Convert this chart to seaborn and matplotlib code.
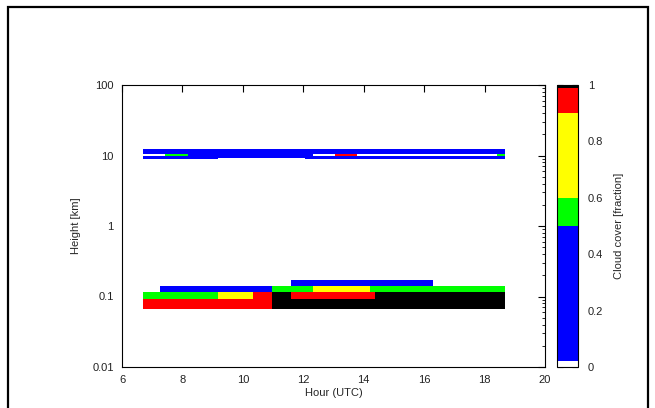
import numpy as np
import matplotlib
matplotlib.use("Agg")
import matplotlib.pyplot as plt
import seaborn as sns
from matplotlib.colors import ListedColormap, BoundaryNorm
from matplotlib.patches import Rectangle

# ---- data (cloud cover fraction, NaN = no cloud) ----
time_edges = [6.68, 7.26, 7.43, 8.19, 9.17, 10.33, 10.96, 11.6, 12.06,
              12.33, 13.05, 13.78, 14.2, 14.38, 16.3, 18.42, 18.68]
height_edges = [0.066, 0.092, 0.116, 0.142, 0.171, 8.9, 9.2, 10.0, 10.6, 12.4]
n = np.nan
row0 = [0.95, 0.95, 0.95, 0.95, 0.95, 0.95, 1.0, 1.0, 1.0, 1.0, 1.0, 1.0, 1.0, 1.0, 1.0, 1.0]
row1 = [0.55, 0.55, 0.55, 0.55, 0.75, 0.95, 1.0, 0.95, 0.95, 0.95, 0.95, 0.95, 0.95, 1.0, 1.0, 1.0]
row2 = [n, 0.3, 0.3, 0.3, 0.3, 0.3, 0.55, 0.55, 0.55, 0.75, 0.75, 0.75, 0.55, 0.55, 0.55, 0.55]
row3 = [n, n, n, n, n, n, n, 0.3, 0.3, 0.3, 0.3, 0.3, 0.3, 0.3, n, n]
row4 = [n] * 16
row5 = [0.3, 0.3, 0.3, 0.3, n, n, n, n, 0.3, 0.3, 0.3, 0.3, 0.3, 0.3, 0.3, 0.3]
row6 = [0.3] * 16
row7 = [0.01, 0.01, 0.55, 0.3, 0.3, 0.3, 0.3, 0.3, 0.3, 0.01, 0.95, 0.01, 0.01, 0.01, 0.01, 0.55]
row8 = [0.3] * 16

cbar_bounds = [0, 0.02, 0.5, 0.6, 0.9, 0.99, 1.0]
cbar_ticks = [0, 0.2, 0.4, 0.6, 0.8, 1]
x_ticks = [6, 8, 10, 12, 14, 16, 18, 20]
y_ticks = [0.01, 0.1, 1, 10, 100]
y_ticklabels = ["0.01", "0.1", "1", "10", "100"]

sns.set_theme(style="white")
plt.rcParams["font.family"] = ["Liberation Sans", "DejaVu Sans"]
plt.rcParams["font.size"] = 8

C = np.array([row0, row1, row2, row3, row4, row5, row6, row7, row8], dtype=float)
cmap = ListedColormap(["#ffffff", "#0000ff", "#00ff00", "#ffff00", "#ff0000", "#000000"])
norm = BoundaryNorm(cbar_bounds, cmap.N)

fig = plt.figure(figsize=(6.55, 4.08), dpi=100)
ax = fig.add_axes([122/655, 1-367/408, (545-122)/655, (367-85)/408])
cax = fig.add_axes([557/655, 1-367/408, (578-557)/655, (367-85)/408])

X, Y = np.meshgrid(time_edges, height_edges)
mesh = ax.pcolormesh(X, Y, np.ma.masked_invalid(C), cmap=cmap, norm=norm)
ax.set_yscale("log")
ax.set_xlim(6, 20)
ax.set_ylim(0.01, 100)
ax.set_xticks(x_ticks)
ax.set_yticks(y_ticks)
ax.set_yticklabels(y_ticklabels)
ax.set_xlabel("Hour (UTC)", labelpad=2, fontsize=8)
ax.set_ylabel("Height [km]", labelpad=8, fontsize=8)
ax.tick_params(which="both", direction="in", top=True, right=True, colors="black",
               labelcolor="#222222", labelsize=8)
ax.tick_params(which="major", length=5, width=0.8, pad=6)
ax.tick_params(which="minor", length=2.5, width=0.6)
for s in ax.spines.values():
    s.set_color("black")
    s.set_linewidth(0.8)

cb = fig.colorbar(mesh, cax=cax, ticks=cbar_ticks, spacing="proportional")
cb.set_ticklabels(["0", "0.2", "0.4", "0.6", "0.8", "1"])
cb.set_label("Cloud cover [fraction]", labelpad=8, fontsize=8)
cax.minorticks_off()
cax.yaxis.set_ticks_position("both")
cax.yaxis.set_label_position("right")
cax.tick_params(direction="in", length=4, width=0.8, colors="black",
                labelcolor="#222222", pad=7, labelsize=8, labelleft=False, labelright=True)
cb.outline.set_edgecolor("black")
cb.outline.set_linewidth(0.8)

fig.patches.append(Rectangle((8/655, -0.1), 640/655, 1.1 - 7/408, transform=fig.transFigure,
                             fill=False, lw=1.6, ec="black"))

fig.savefig("out.png", dpi=100)
